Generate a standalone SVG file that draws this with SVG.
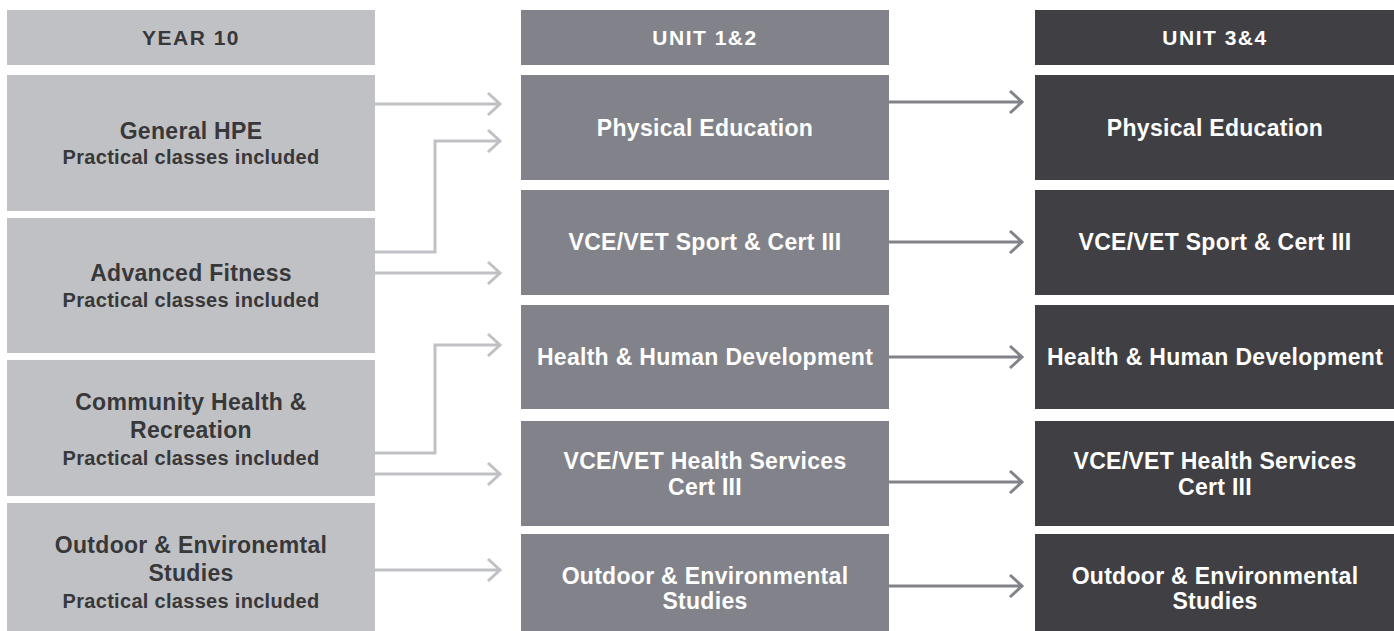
<svg xmlns="http://www.w3.org/2000/svg" width="1394" height="631" viewBox="0 0 1394 631">
<style>
.c1{fill:#c0c1c4}
.c2{fill:#82838a}
.c3{fill:#404044}
text{font-family:"Liberation Sans",Arial,Helvetica,sans-serif;font-weight:bold;text-anchor:middle}
.hd{font-size:21px;letter-spacing:1.5px}
.t{font-size:23px;letter-spacing:0.3px}
.s{font-size:20px;letter-spacing:0.3px}
.dk{fill:#38383a}
.wt{fill:#ffffff}
.la{fill:none;stroke:#c0c1c4;stroke-width:3}
.da{fill:none;stroke:#82838a;stroke-width:3}
</style>
<rect width="1394" height="631" fill="#ffffff"/>
<g id="hdr-year10"><rect class="c1" x="7" y="10" width="368" height="55"/><text class="hd dk" x="191" y="45">YEAR 10</text></g>
<g id="hdr-unit12"><rect class="c2" x="521" y="10" width="368" height="55"/><text class="hd wt" x="705" y="45">UNIT 1&amp;2</text></g>
<g id="hdr-unit34"><rect class="c3" x="1035" y="10" width="359" height="55"/><text class="hd wt" x="1215" y="45">UNIT 3&amp;4</text></g>

<g id="y10-general"><rect class="c1" x="7" y="75" width="368" height="136"/><text class="t dk" x="191" y="139">General HPE</text><text class="s dk" x="191" y="164">Practical classes included</text></g>
<g id="y10-advanced"><rect class="c1" x="7" y="218" width="368" height="135"/><text class="t dk" x="191" y="281">Advanced Fitness</text><text class="s dk" x="191" y="307">Practical classes included</text></g>
<g id="y10-community"><rect class="c1" x="7" y="360" width="368" height="136"/><text class="t dk" x="191" y="410">Community Health &amp;</text><text class="t dk" x="191" y="438">Recreation</text><text class="s dk" x="191" y="465">Practical classes included</text></g>
<g id="y10-outdoor"><rect class="c1" x="7" y="503" width="368" height="128"/><text class="t dk" x="191" y="553">Outdoor &amp; Environemtal</text><text class="t dk" x="191" y="581">Studies</text><text class="s dk" x="191" y="608">Practical classes included</text></g>

<g id="u12-pe"><rect class="c2" x="521" y="75" width="368" height="105"/><text class="t wt" x="705" y="136">Physical Education</text></g>
<g id="u12-sport"><rect class="c2" x="521" y="190" width="368" height="105"/><text class="t wt" x="705" y="250">VCE/VET Sport &amp; Cert III</text></g>
<g id="u12-hhd"><rect class="c2" x="521" y="305" width="368" height="104"/><text class="t wt" x="705" y="365">Health &amp; Human Development</text></g>
<g id="u12-health"><rect class="c2" x="521" y="421" width="368" height="105"/><text class="t wt" x="705" y="469">VCE/VET Health Services</text><text class="t wt" x="705" y="495">Cert III</text></g>
<g id="u12-outdoor"><rect class="c2" x="521" y="534" width="368" height="97"/><text class="t wt" x="705" y="584">Outdoor &amp; Environmental</text><text class="t wt" x="705" y="609">Studies</text></g>

<g id="u34-pe"><rect class="c3" x="1035" y="75" width="359" height="105"/><text class="t wt" x="1215" y="136">Physical Education</text></g>
<g id="u34-sport"><rect class="c3" x="1035" y="190" width="359" height="105"/><text class="t wt" x="1215" y="250">VCE/VET Sport &amp; Cert III</text></g>
<g id="u34-hhd"><rect class="c3" x="1035" y="305" width="359" height="104"/><text class="t wt" x="1215" y="365">Health &amp; Human Development</text></g>
<g id="u34-health"><rect class="c3" x="1035" y="421" width="359" height="105"/><text class="t wt" x="1215" y="469">VCE/VET Health Services</text><text class="t wt" x="1215" y="495">Cert III</text></g>
<g id="u34-outdoor"><rect class="c3" x="1035" y="534" width="359" height="97"/><text class="t wt" x="1215" y="584">Outdoor &amp; Environmental</text><text class="t wt" x="1215" y="609">Studies</text></g>

<g id="connectors">
<path class="la" d="M375 104H500 M488 93L500 104L488 115"/>
<path class="la" d="M375 252H435V141H500 M488 130L500 141L488 152"/>
<path class="la" d="M375 273H500 M488 262L500 273L488 284"/>
<path class="la" d="M375 453H435V345H500 M488 334L500 345L488 356"/>
<path class="la" d="M375 474H500 M488 463L500 474L488 485"/>
<path class="la" d="M375 570H500 M488 559L500 570L488 581"/>
<path class="da" d="M889 102H1022 M1010 91L1022 102L1010 113"/>
<path class="da" d="M889 242H1022 M1010 231L1022 242L1010 253"/>
<path class="da" d="M889 357H1022 M1010 346L1022 357L1010 368"/>
<path class="da" d="M889 482H1022 M1010 471L1022 482L1010 493"/>
<path class="da" d="M889 586H1022 M1010 575L1022 586L1010 597"/>
</g>
</svg>
